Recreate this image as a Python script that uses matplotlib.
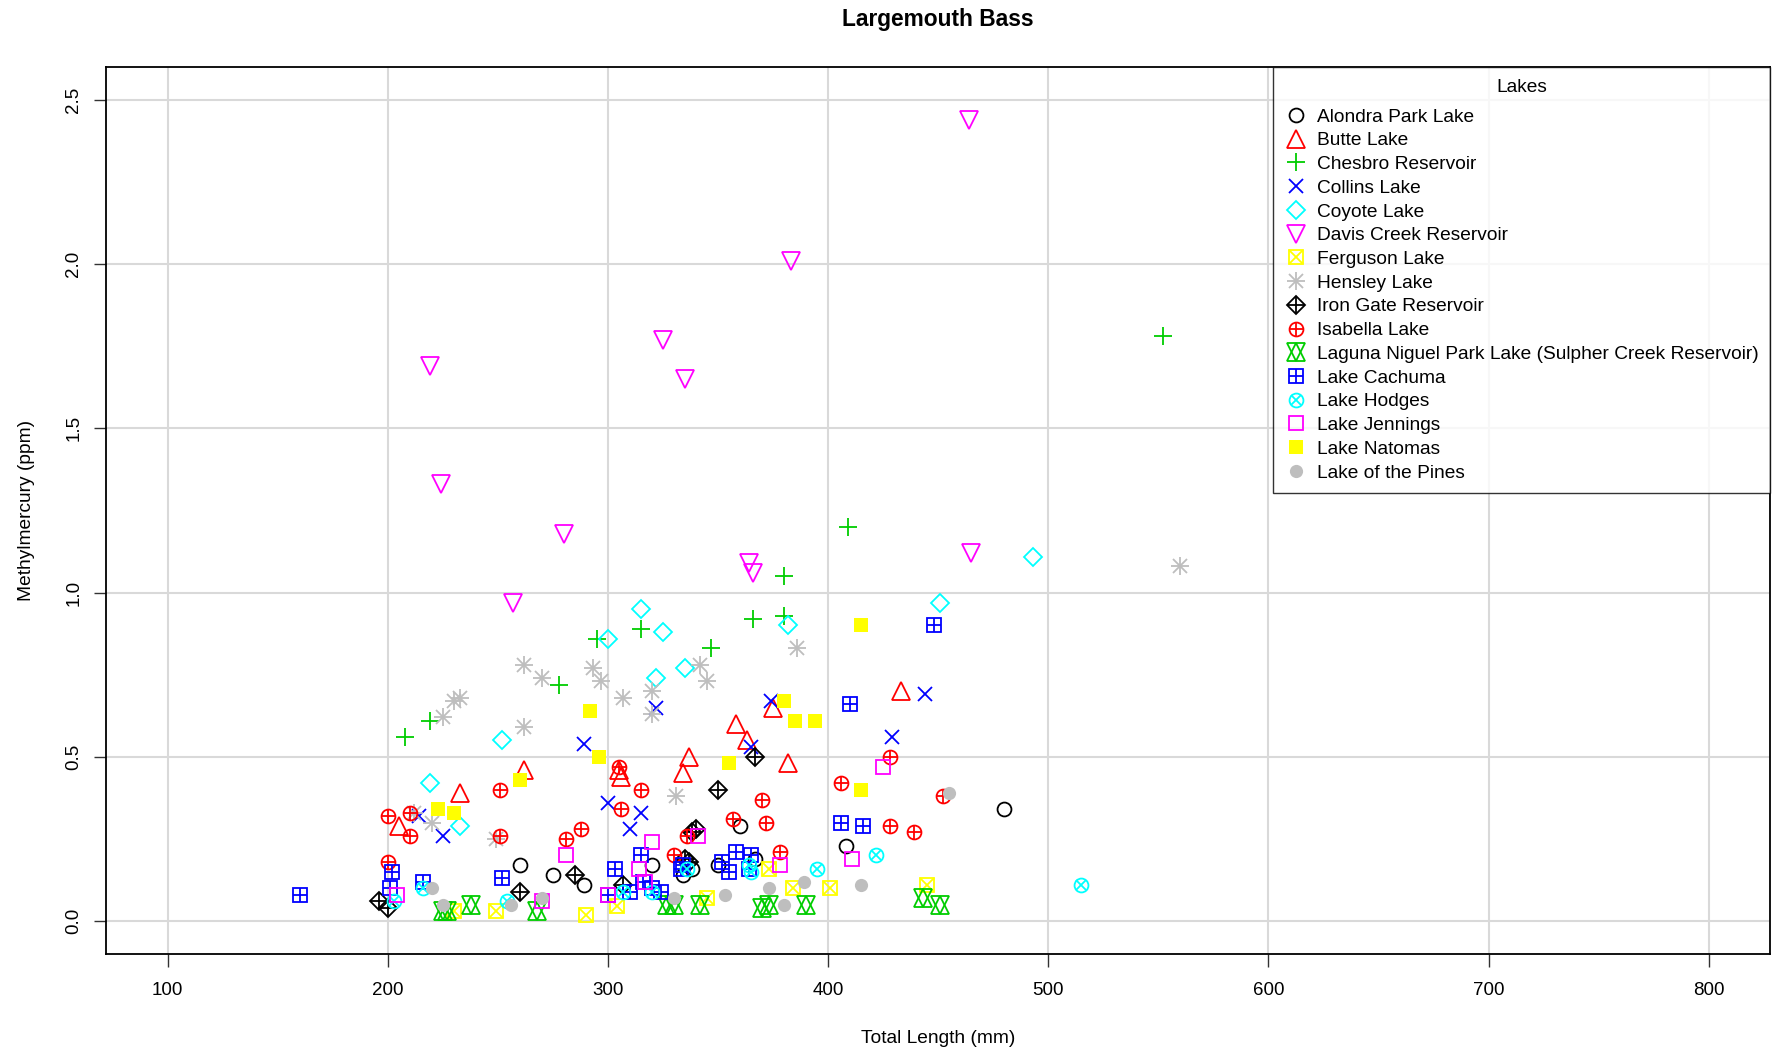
import matplotlib
matplotlib.use("Agg")
import matplotlib.pyplot as plt

plt.rcParams['font.family'] = ['Liberation Sans', 'DejaVu Sans']

lakes = ["Alondra Park Lake", "Butte Lake", "Chesbro Reservoir", "Collins Lake",
         "Coyote Lake", "Davis Creek Reservoir", "Ferguson Lake", "Hensley Lake",
         "Iron Gate Reservoir", "Isabella Lake",
         "Laguna Niguel Park Lake (Sulpher Creek Reservoir)", "Lake Cachuma",
         "Lake Hodges", "Lake Jennings", "Lake Natomas", "Lake of the Pines"]

# length (mm), methylmercury (ppm) per lake
alondra_x = [260, 275, 289, 320, 334, 338, 350, 360, 367, 408, 480]
alondra_y = [0.17, 0.14, 0.11, 0.17, 0.14, 0.16, 0.17, 0.29, 0.19, 0.23, 0.34]
butte_x = [205, 233, 262, 305, 306, 334, 337, 358, 363, 375, 382, 433]
butte_y = [0.29, 0.39, 0.46, 0.46, 0.44, 0.45, 0.50, 0.60, 0.55, 0.65, 0.48, 0.70]
chesbro_x = [208, 219, 278, 295, 315, 347, 366, 380, 380, 409, 552]
chesbro_y = [0.56, 0.61, 0.72, 0.86, 0.89, 0.83, 0.92, 1.05, 0.93, 1.20, 1.78]
collins_x = [214, 225, 289, 300, 310, 315, 322, 365, 374, 429, 444]
collins_y = [0.32, 0.26, 0.54, 0.36, 0.28, 0.33, 0.65, 0.53, 0.67, 0.56, 0.69]
coyote_x = [219, 233, 252, 300, 315, 322, 325, 335, 382, 451, 493]
coyote_y = [0.42, 0.29, 0.55, 0.86, 0.95, 0.74, 0.88, 0.77, 0.90, 0.97, 1.11]
davis_x = [219, 224, 257, 280, 325, 335, 364, 366, 383, 464, 465]
davis_y = [1.69, 1.33, 0.97, 1.18, 1.77, 1.65, 1.09, 1.06, 2.01, 2.44, 1.12]
ferguson_x = [230, 249, 290, 304, 345, 373, 384, 401, 445]
ferguson_y = [0.03, 0.03, 0.02, 0.045, 0.07, 0.16, 0.10, 0.10, 0.11]
hensley_x = [212, 220, 225, 230, 233, 249, 262, 262, 270, 293, 297, 307, 320, 320,
             331, 342, 345, 386, 560]
hensley_y = [0.33, 0.30, 0.62, 0.67, 0.68, 0.25, 0.78, 0.59, 0.74, 0.77, 0.73, 0.68,
             0.70, 0.63, 0.38, 0.78, 0.73, 0.83, 1.08]
irongate_x = [196, 200, 260, 285, 307, 335, 337, 338, 340, 350, 367]
irongate_y = [0.06, 0.04, 0.09, 0.14, 0.11, 0.19, 0.18, 0.27, 0.28, 0.40, 0.50]
isabella_x = [200, 200, 210, 210, 251, 251, 281, 288, 305, 306, 315, 330, 336, 357,
              370, 372, 378, 406, 428, 428, 439, 452]
isabella_y = [0.32, 0.18, 0.33, 0.26, 0.40, 0.26, 0.25, 0.28, 0.47, 0.34, 0.40, 0.20,
              0.26, 0.31, 0.37, 0.30, 0.21, 0.42, 0.29, 0.50, 0.27, 0.38]
laguna_x = [225, 227, 238, 268, 327, 330, 342, 370, 373, 390, 443, 451]
laguna_y = [0.03, 0.03, 0.05, 0.03, 0.05, 0.05, 0.05, 0.04, 0.05, 0.05, 0.07, 0.05]
cachuma_x = [160, 201, 202, 216, 252, 300, 303, 310, 315, 316, 320, 324, 333, 334,
             352, 355, 358, 364, 365, 406, 410, 416, 448]
cachuma_y = [0.08, 0.10, 0.15, 0.12, 0.13, 0.08, 0.16, 0.09, 0.20, 0.12, 0.10, 0.09,
             0.16, 0.17, 0.18, 0.15, 0.21, 0.16, 0.20, 0.30, 0.66, 0.29, 0.90]
hodges_x = [203, 216, 254, 307, 320, 336, 364, 365, 395, 422, 515]
hodges_y = [0.06, 0.10, 0.06, 0.09, 0.09, 0.16, 0.17, 0.15, 0.16, 0.20, 0.11]
jennings_x = [204, 270, 281, 300, 314, 317, 320, 341, 378, 411, 425]
jennings_y = [0.08, 0.06, 0.20, 0.08, 0.16, 0.12, 0.24, 0.26, 0.17, 0.19, 0.47]
natomas_x = [223, 230, 260, 292, 296, 355, 380, 385, 394, 415, 415]
natomas_y = [0.34, 0.33, 0.43, 0.64, 0.50, 0.48, 0.67, 0.61, 0.61, 0.90, 0.40]
pines_x = [220, 225, 256, 270, 330, 353, 373, 380, 389, 415, 455]
pines_y = [0.10, 0.05, 0.05, 0.07, 0.07, 0.08, 0.10, 0.05, 0.12, 0.11, 0.39]

xs = [alondra_x, butte_x, chesbro_x, collins_x, coyote_x, davis_x, ferguson_x,
      hensley_x, irongate_x, isabella_x, laguna_x, cachuma_x, hodges_x, jennings_x,
      natomas_x, pines_x]
ys = [alondra_y, butte_y, chesbro_y, collins_y, coyote_y, davis_y, ferguson_y,
      hensley_y, irongate_y, isabella_y, laguna_y, cachuma_y, hodges_y, jennings_y,
      natomas_y, pines_y]

green3 = '#00CD00'
gray = '#BEBEBE'
colors = ['black', 'red', green3, 'blue', 'cyan', 'magenta', 'yellow', gray,
          'black', 'red', green3, 'blue', 'cyan', 'magenta', 'yellow', gray]

# R pch shapes built from overlaid matplotlib markers: (marker, size, filled)
shapes = [
    [('o', 10, False)],
    [('^', 12.5, False)],
    [('+', 13.5, False)],
    [('x', 10, False)],
    [('D', 9.5, False)],
    [('v', 12.5, False)],
    [('s', 10, False), ('x', 10, False)],
    [('+', 13.5, False), ('x', 9.5, False)],
    [('D', 9.5, False), ('+', 13.5, False)],
    [('o', 10, False), ('+', 10, False)],
    [('^', 12.5, False), ('v', 12.5, False)],
    [('s', 10, False), ('+', 10, False)],
    [('o', 10, False), ('x', 7, False)],
    [('s', 10, False)],
    [('s', 10, True)],
    [('o', 9.5, True)],
]

fig = plt.figure(figsize=(17.81, 10.52), dpi=100)
ax = fig.add_axes([0.0595, 0.0932, 0.9345, 0.843])

handles = []
for name, x, y, c, shp in zip(lakes, xs, ys, colors, shapes):
    parts = []
    for m, ms, filled in shp:
        ln, = ax.plot(x, y, linestyle='none', marker=m, markersize=ms,
                      markeredgecolor=c, markerfacecolor=c if filled else 'none',
                      markeredgewidth=0 if filled else 1.3, zorder=3)
        parts.append(ln)
    handles.append(tuple(parts) if len(parts) > 1 else parts[0])

ax.set_xlim(72, 828)
ax.set_ylim(-0.1, 2.6)
ax.set_xticks([100, 200, 300, 400, 500, 600, 700, 800])
ax.set_yticks([0.0, 0.5, 1.0, 1.5, 2.0, 2.5])
ax.set_yticklabels(['0.0', '0.5', '1.0', '1.5', '2.0', '2.5'], rotation=90, va='center')
ax.grid(True, color='#D9D9D9', linewidth=1.5, zorder=0)
ax.set_axisbelow(True)
ax.tick_params(axis='both', length=9, width=1, color='#333333', labelsize=13.5)
ax.tick_params(axis='x', pad=11.5)
ax.tick_params(axis='y', pad=8)
for s in ax.spines.values():
    s.set_linewidth(1.3)

ax.set_xlabel('Total Length (mm)', fontsize=13.8, labelpad=22)
ax.set_ylabel('Methylmercury (ppm)', fontsize=13.8, labelpad=21.5)
ax.set_title('Largemouth Bass', fontsize=16.4, fontweight='bold', pad=29.5)

leg = ax.legend(handles, lakes, loc='upper right', title='Lakes', fontsize=13.8,
                title_fontsize=13.8, frameon=True, fancybox=False, edgecolor='black',
                borderaxespad=0, labelspacing=0.33, handlelength=1.2,
                handletextpad=0.5, borderpad=0.6)
leg.get_frame().set_linewidth(1.0)
leg._legend_box.sep = 9

fig.savefig('out.png', dpi=100)
